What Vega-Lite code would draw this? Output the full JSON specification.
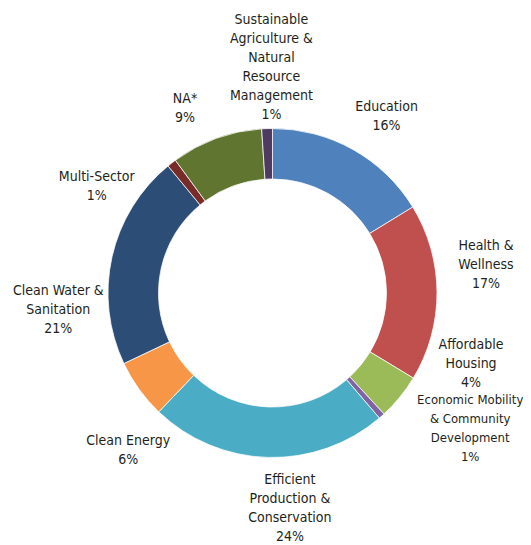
{
  "$schema": "https://vega.github.io/schema/vega-lite/v6.json",
  "width": 500,
  "height": 500,
  "autosize": "none",
  "padding": {"left": 22.5, "top": 43, "right": 0, "bottom": 0},
  "background": "white",
  "config": {"view": {"stroke": null}, "text": {"font": "DejaVu Sans Condensed", "fontSize": 14, "color": "#231F20", "lineHeight": 19, "lineBreak": "\n", "align": "center", "baseline": "middle", "radius": 215}},
  "data": {
    "values": [
      {"cat": "Education", "label": "Education\n16%", "value": 16.25, "idx": 1},
      {"cat": "Health & Wellness", "label": "Health &\nWellness\n17%", "value": 17.4, "idx": 2},
      {"cat": "Affordable Housing", "label": "Affordable\nHousing\n4%", "value": 4.5, "idx": 3},
      {"cat": "Economic Mobility & Community Development", "label": "Economic Mobility\n& Community\nDevelopment\n1%", "value": 0.6, "idx": 4},
      {"cat": "Efficient Production & Conservation", "label": "Efficient\nProduction &\nConservation\n24%", "value": 23.4, "idx": 5},
      {"cat": "Clean Energy", "label": "Clean Energy\n6%", "value": 5.8, "idx": 6},
      {"cat": "Clean Water & Sanitation", "label": "Clean Water &\nSanitation\n21%", "value": 21.1, "idx": 7},
      {"cat": "Multi-Sector", "label": "Multi-Sector\n1%", "value": 0.9, "idx": 8},
      {"cat": "NA*", "label": "NA*\n9%", "value": 9.0, "idx": 9},
      {"cat": "Sustainable Agriculture & Natural Resource Management", "label": "Sustainable\nAgriculture &\nNatural\nResource\nManagement\n1%", "value": 1.05, "idx": 10}
    ]
  },
  "encoding": {
    "theta": {"field": "value", "type": "quantitative", "stack": true},
    "order": {"field": "idx", "type": "quantitative"}
  },
  "layer": [
    {
      "mark": {"type": "arc", "outerRadius": 164.5, "innerRadius": 114, "stroke": "white", "strokeWidth": 0.75},
      "encoding": {
        "color": {
          "field": "cat", "type": "nominal", "legend": null,
          "scale": {
            "domain": ["Education", "Health & Wellness", "Affordable Housing", "Economic Mobility & Community Development", "Efficient Production & Conservation", "Clean Energy", "Clean Water & Sanitation", "Multi-Sector", "NA*", "Sustainable Agriculture & Natural Resource Management"],
            "range": ["#4F81BD", "#C0504D", "#9BBB59", "#8064A2", "#4BACC6", "#F79646", "#2C4D75", "#772C2A", "#5F7530", "#4D3B62"]
          }
        }
      }
    },
    {
      "mark": {"type": "text", "dx": 9, "dy": 1.5},
      "encoding": {"detail": {"field": "cat"}, "text": {"condition": {"test": "datum.cat === 'Education'", "field": "label"}, "value": ""}}
    },
    {
      "mark": {"type": "text", "dx": -1.5, "dy": -46},
      "encoding": {"detail": {"field": "cat"}, "text": {"condition": {"test": "datum.cat === 'Health & Wellness'", "field": "label"}, "value": ""}}
    },
    {
      "mark": {"type": "text", "dx": 32, "dy": -84},
      "encoding": {"detail": {"field": "cat"}, "text": {"condition": {"test": "datum.cat === 'Affordable Housing'", "field": "label"}, "value": ""}}
    },
    {
      "mark": {"type": "text", "dx": 55, "dy": -53.5, "fontSize": 13},
      "encoding": {"detail": {"field": "cat"}, "text": {"condition": {"test": "datum.cat === 'Economic Mobility & Community Development'", "field": "label"}, "value": ""}}
    },
    {
      "mark": {"type": "text", "dx": 23.5, "dy": -28},
      "encoding": {"detail": {"field": "cat"}, "text": {"condition": {"test": "datum.cat === 'Efficient Production & Conservation'", "field": "label"}, "value": ""}}
    },
    {
      "mark": {"type": "text", "dx": 30, "dy": 22.5},
      "encoding": {"detail": {"field": "cat"}, "text": {"condition": {"test": "datum.cat === 'Clean Energy'", "field": "label"}, "value": ""}}
    },
    {
      "mark": {"type": "text", "dx": -4.4, "dy": 45},
      "encoding": {"detail": {"field": "cat"}, "text": {"condition": {"test": "datum.cat === 'Clean Water & Sanitation'", "field": "label"}, "value": ""}}
    },
    {
      "mark": {"type": "text", "dx": -44, "dy": 53.5},
      "encoding": {"detail": {"field": "cat"}, "text": {"condition": {"test": "datum.cat === 'Multi-Sector'", "field": "label"}, "value": ""}}
    },
    {
      "mark": {"type": "text", "dx": -14, "dy": 8.5},
      "encoding": {"detail": {"field": "cat"}, "text": {"condition": {"test": "datum.cat === 'NA*'", "field": "label"}, "value": ""}}
    },
    {
      "mark": {"type": "text", "dx": 6, "dy": -58.1},
      "encoding": {"detail": {"field": "cat"}, "text": {"condition": {"test": "datum.cat === 'Sustainable Agriculture & Natural Resource Management'", "field": "label"}, "value": ""}}
    }
  ]
}
